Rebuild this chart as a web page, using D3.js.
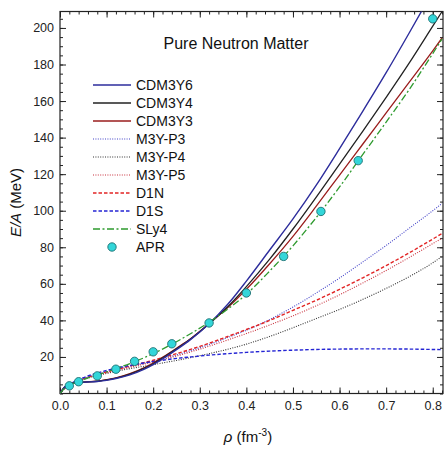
<!DOCTYPE html>
<html>
<head>
<meta charset="utf-8">
<script src="https://cdn.jsdelivr.net/npm/d3@7"></script>
<style>
  body { margin: 0; background: #fff; }
  svg { display: block; font-family: Arial, "Liberation Sans", sans-serif; }
  .tick text { fill: #222; }
</style>
</head>
<body>
<div id="chart"></div>
<script>
// density grid (fm^-3) shared by all curves
var rho = [0, 0.01, 0.02, 0.04, 0.06, 0.08, 0.1, 0.12, 0.15, 0.18, 0.2, 0.22, 0.25, 0.28,
           0.32, 0.36, 0.4, 0.45, 0.5, 0.55, 0.6, 0.65, 0.7, 0.75, 0.8, 0.82];

// E/A (MeV)
var cdm3y6 = [0, 3.6, 5.1, 6.1, 6.3, 6.6, 7.2, 8.2, 10.2, 13.2, 15.8, 18.9, 24.0, 29.5,
              38.2, 48.8, 61.5, 78.5, 95.5, 114, 134, 154.5, 175.5, 197.5, 220, 229];
var cdm3y4 = [0, 3.6, 5.1, 6.1, 6.35, 6.7, 7.4, 8.4, 10.6, 13.7, 16.3, 19.4, 24.4, 29.8,
              38.2, 47.5, 58.5, 73.5, 90, 107.5, 125.5, 143.5, 162, 181, 201, 209];
var cdm3y3 = [0, 3.6, 5.1, 6.1, 6.4, 6.8, 7.6, 8.6, 10.9, 14.1, 16.7, 19.8, 24.8, 30,
              38.3, 47, 57, 71, 86, 102.5, 119.5, 136.5, 153.5, 170.5, 187.5, 194.5];
var m3yp3  = [0, 2.9, 4.6, 7.2, 9, 10.5, 11.8, 13, 14.8, 16.5, 17.7, 19, 21.1, 23.4,
              26.8, 30.6, 34.6, 40.5, 47.3, 55, 63.2, 72, 81, 90.5, 100, 104];
var m3yp4  = [0, 2.8, 4.4, 6.8, 8.5, 9.8, 11, 12.1, 13.6, 14.9, 15.8, 16.7, 18.1, 19.6,
              21.8, 24.2, 27, 31.2, 36, 41, 46, 51.5, 57.5, 64, 71.5, 75];
var m3yp5  = [0, 2.8, 4.5, 6.9, 8.6, 10, 11.3, 12.5, 14.3, 16, 17.2, 18.5, 20.5, 22.7,
              25.9, 29.3, 32.8, 37.5, 42.5, 48, 54, 60.5, 67.3, 74.5, 82, 85];
var d1n    = [0, 2.9, 4.6, 7.1, 8.9, 10.4, 11.8, 13.1, 15, 16.9, 18.2, 19.6, 21.8, 24.1,
              27.5, 31.2, 35, 40, 45.5, 51, 57, 63.3, 70, 77, 84.5, 87.5];
var d1s    = [0, 3, 4.8, 7.6, 9.6, 11.2, 12.6, 13.8, 15.4, 16.7, 17.5, 18.2, 19.2, 20,
              21, 21.8, 22.5, 23.2, 23.7, 24.1, 24.3, 24.4, 24.4, 24.3, 24.1, 24];
var sly4   = [0, 2.9, 4.4, 6.7, 8.5, 10.1, 11.8, 13.6, 16.4, 19.5, 21.8, 24.3, 28.3, 32.7,
              39, 46.2, 54.3, 67, 80.8, 96.3, 113, 130.8, 148.5, 166.5, 186, 194];

// APR points
var aprRho = [0.02, 0.04, 0.08, 0.12, 0.16, 0.2, 0.24, 0.32, 0.4, 0.48, 0.56, 0.64, 0.8];
var aprE   = [4.2, 6.45, 9.65, 13.29, 17.6, 22.8, 27.2, 38.6, 55, 75, 99.6, 127.4, 205];

var xTicks = [0, 0.1, 0.2, 0.3, 0.4, 0.5, 0.6, 0.7, 0.8];
var yTicks = [20, 40, 60, 80, 100, 120, 140, 160, 180, 200];

var series = [
  { name: "CDM3Y6", values: cdm3y6, color: "#2d2d9c", width: 1.4, dash: null, z: 8 },
  { name: "CDM3Y4", values: cdm3y4, color: "#222222", width: 1.3, dash: null, z: 7 },
  { name: "CDM3Y3", values: cdm3y3, color: "#9a1c1c", width: 1.3, dash: null, z: 6 },
  { name: "M3Y-P3", values: m3yp3,  color: "#4343c8", width: 1.1, dash: "1,1.4", z: 2 },
  { name: "M3Y-P4", values: m3yp4,  color: "#333333", width: 1.1, dash: "1,1.4", z: 1 },
  { name: "M3Y-P5", values: m3yp5,  color: "#c8303c", width: 1.1, dash: "1,1.4", z: 3 },
  { name: "D1N",    values: d1n,    color: "#e22424", width: 1.4, dash: "3.5,2", z: 4 },
  { name: "D1S",    values: d1s,    color: "#2424d4", width: 1.4, dash: "3.5,2", z: 5 },
  { name: "SLy4",   values: sly4,   color: "#2e9a2e", width: 1.3, dash: "7,2.5,2,2.5", z: 9 }
];

var W = 448, H = 457;
var pLeft = 60, pRight = 443, pTop = 11.5, pBottom = 393.5;

var svg = d3.select("#chart").append("svg")
    .attr("width", W)
    .attr("height", H);

var x = d3.scaleLinear().domain([0, 0.822]).range([pLeft, pRight]);
var y = d3.scaleLinear().domain([0, 209]).range([pBottom, pTop]);

svg.append("clipPath").attr("id", "clip")
  .append("rect")
    .attr("x", pLeft).attr("y", pTop)
    .attr("width", pRight - pLeft).attr("height", pBottom - pTop);

// minor ticks
var xMinor = d3.range(0, 0.821, 0.02);
var yMinor = d3.range(0, 209, 5);

function minorAxis(axis, vals) {
  return axis.tickValues(vals).tickSize(-3).tickFormat("");
}

svg.append("g").attr("transform", "translate(0," + pBottom + ")")
    .call(minorAxis(d3.axisBottom(x), xMinor));
svg.append("g").attr("transform", "translate(0," + pTop + ")")
    .call(minorAxis(d3.axisTop(x), xMinor));
svg.append("g").attr("transform", "translate(" + pLeft + ",0)")
    .call(minorAxis(d3.axisLeft(y), yMinor));
svg.append("g").attr("transform", "translate(" + pRight + ",0)")
    .call(minorAxis(d3.axisRight(y), yMinor));

// major ticks
svg.append("g").attr("transform", "translate(0," + pBottom + ")")
    .call(d3.axisBottom(x).tickValues(xTicks).tickSize(-6).tickPadding(8)
      .tickFormat(d3.format(".1f")))
    .call(function(g) { g.selectAll("text").attr("font-size", 12.5); });
svg.append("g").attr("transform", "translate(0," + pTop + ")")
    .call(d3.axisTop(x).tickValues(xTicks).tickSize(-6).tickFormat(""));
svg.append("g").attr("transform", "translate(" + pLeft + ",0)")
    .call(d3.axisLeft(y).tickValues(yTicks).tickSize(-6).tickPadding(6))
    .call(function(g) { g.selectAll("text").attr("font-size", 12.5); });
svg.append("g").attr("transform", "translate(" + pRight + ",0)")
    .call(d3.axisRight(y).tickValues(yTicks).tickSize(-6).tickFormat(""));

svg.selectAll(".domain").remove();
svg.selectAll(".tick line").attr("stroke", "#222");

// frame
svg.append("rect")
    .attr("x", pLeft).attr("y", pTop)
    .attr("width", pRight - pLeft).attr("height", pBottom - pTop)
    .attr("fill", "none").attr("stroke", "#222").attr("stroke-width", 1.2);

// curves
var line = d3.line()
    .x(function(d) { return x(d[0]); })
    .y(function(d) { return y(d[1]); })
    .curve(d3.curveMonotoneX);

var plot = svg.append("g").attr("clip-path", "url(#clip)");

// draw in z order so the navy CDM3Y6 stays on top at low density
series.slice().sort(function(a, b) { return a.z - b.z; }).forEach(function(s) {
  var pts = rho.map(function(r, i) { return [r, s.values[i]]; });
  plot.append("path")
      .datum(pts)
      .attr("d", line)
      .attr("fill", "none")
      .attr("stroke", s.color)
      .attr("stroke-width", s.width)
      .attr("stroke-dasharray", s.dash);
});

plot.selectAll("circle.apr")
    .data(aprRho.map(function(r, i) { return [r, aprE[i]]; }))
    .enter().append("circle")
    .attr("class", "apr")
    .attr("cx", function(d) { return x(d[0]); })
    .attr("cy", function(d) { return y(d[1]); })
    .attr("r", 4.2)
    .attr("fill", "#33d6d9")
    .attr("stroke", "#1d6f72")
    .attr("stroke-width", 0.9);

// title
svg.append("text")
    .attr("x", 236).attr("y", 49)
    .attr("text-anchor", "middle")
    .attr("font-size", 16)
    .attr("fill", "#111")
    .text("Pure Neutron Matter");

// legend
var leg = svg.append("g");
var rowY = 85, rowStep = 18;

series.forEach(function(s, i) {
  var yy = rowY + i * rowStep;
  leg.append("line")
      .attr("x1", 93).attr("x2", 131)
      .attr("y1", yy).attr("y2", yy)
      .attr("stroke", s.color)
      .attr("stroke-width", s.width)
      .attr("stroke-dasharray", s.dash);
  leg.append("text")
      .attr("x", 136).attr("y", yy + 5)
      .attr("font-size", 14)
      .attr("fill", "#111")
      .text(s.name);
});

var aprY = rowY + series.length * rowStep;
leg.append("circle")
    .attr("cx", 112).attr("cy", aprY).attr("r", 4.2)
    .attr("fill", "#33d6d9").attr("stroke", "#1d6f72").attr("stroke-width", 0.9);
leg.append("text")
    .attr("x", 136).attr("y", aprY + 5)
    .attr("font-size", 14)
    .attr("fill", "#111")
    .text("APR");

// axis titles
var yl = svg.append("text")
    .attr("transform", "translate(21," + ((pTop + pBottom) / 2) + ") rotate(-90)")
    .attr("text-anchor", "middle")
    .attr("font-size", 15)
    .attr("fill", "#111");
yl.append("tspan").attr("font-style", "italic").text("E/A");
yl.append("tspan").text(" (MeV)");

var xl = svg.append("text")
    .attr("x", 248).attr("y", 442)
    .attr("text-anchor", "middle")
    .attr("font-size", 15)
    .attr("fill", "#111");
xl.append("tspan").attr("font-style", "italic").text("ρ");
xl.append("tspan").text(" (fm");
xl.append("tspan").attr("font-size", 10).attr("dy", -6).text("-3");
xl.append("tspan").attr("dy", 6).text(")");
</script>
</body>
</html>
